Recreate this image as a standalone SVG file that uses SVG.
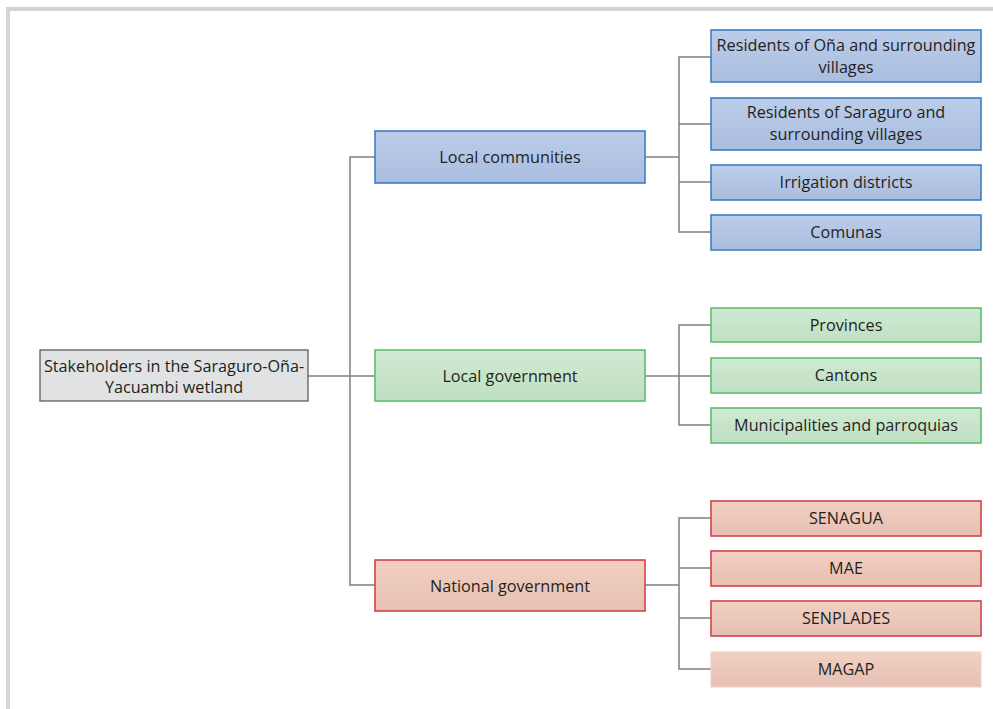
<svg xmlns="http://www.w3.org/2000/svg" width="993" height="709" viewBox="0 0 993 709">
<defs>
<linearGradient id="gb" x1="0" y1="0" x2="0" y2="1"><stop offset="0" stop-color="#bccde9"/><stop offset="1" stop-color="#a9bddf"/></linearGradient>
<linearGradient id="gg" x1="0" y1="0" x2="0" y2="1"><stop offset="0" stop-color="#d0ead3"/><stop offset="1" stop-color="#bfdfc3"/></linearGradient>
<linearGradient id="gr" x1="0" y1="0" x2="0" y2="1"><stop offset="0" stop-color="#f2d0c2"/><stop offset="1" stop-color="#e6c0b2"/></linearGradient>
<style>
text{font-family:"Open Sans","Liberation Sans",sans-serif;font-size:16.2px;fill:#231f20;text-anchor:middle}
.b{fill:url(#gb);stroke:#3d7fc1;stroke-width:1.6}
.g{fill:url(#gg);stroke:#5fbd6f;stroke-width:1.6}
.r{fill:url(#gr);stroke:#d1434c;stroke-width:1.6}
.rl{fill:url(#gr);stroke:#ecd2c8;stroke-width:1}
.root{fill:#e1e2e3;stroke:#5c5c5c;stroke-width:1.3}
.c{fill:none;stroke:#7f7f7f;stroke-width:1.5}
</style>
</defs>
<rect x="0" y="0" width="993" height="709" fill="#ffffff"/>
<path d="M8 712 V9 H996" fill="none" stroke="#d2d3d5" stroke-width="4"/>
<g id="connectors" class="c">
<path d="M308 376 H375"/>
<path d="M375 157 H350 V585 H375"/>
<path d="M645 157 H679"/>
<path d="M711 57 H679 V232 H711"/>
<path d="M679 124 H711"/>
<path d="M679 182 H711"/>
<path d="M645 376 H711"/>
<path d="M711 325 H679 V425 H711"/>
<path d="M645 585 H679"/>
<path d="M711 518 H679 V669 H711"/>
<path d="M679 568 H711"/>
<path d="M679 618 H711"/>
</g>
<g id="root"><rect class="root" x="40" y="350" width="268" height="51"/><text x="174" y="372">Stakeholders in the Saraguro-Oña-</text><text x="174" y="393">Yacuambi wetland</text></g>
<g id="local-communities"><rect class="b" x="375" y="131" width="270" height="52"/><text x="510" y="163">Local communities</text></g>
<g id="local-government"><rect class="g" x="375" y="350" width="270" height="51"/><text x="510" y="382">Local government</text></g>
<g id="national-government"><rect class="r" x="375" y="560" width="270" height="51"/><text x="510" y="592">National government</text></g>
<g id="residents-ona"><rect class="b" x="711" y="30" width="270" height="52"/><text x="846" y="51">Residents of Oña and surrounding</text><text x="846" y="73">villages</text></g>
<g id="residents-saraguro"><rect class="b" x="711" y="98" width="270" height="52"/><text x="846" y="118">Residents of Saraguro and</text><text x="846" y="140">surrounding villages</text></g>
<g id="irrigation"><rect class="b" x="711" y="165" width="270" height="35"/><text x="846" y="188">Irrigation districts</text></g>
<g id="comunas"><rect class="b" x="711" y="215" width="270" height="35"/><text x="846" y="238">Comunas</text></g>
<g id="provinces"><rect class="g" x="711" y="308" width="270" height="34"/><text x="846" y="331">Provinces</text></g>
<g id="cantons"><rect class="g" x="711" y="358" width="270" height="35"/><text x="846" y="381">Cantons</text></g>
<g id="municipalities"><rect class="g" x="711" y="408" width="270" height="35"/><text x="846" y="431">Municipalities and parroquias</text></g>
<g id="senagua"><rect class="r" x="711" y="501" width="270" height="35"/><text x="846" y="524">SENAGUA</text></g>
<g id="mae"><rect class="r" x="711" y="551" width="270" height="35"/><text x="846" y="574">MAE</text></g>
<g id="senplades"><rect class="r" x="711" y="601" width="270" height="35"/><text x="846" y="624">SENPLADES</text></g>
<g id="magap"><rect class="rl" x="711" y="652" width="270" height="35"/><text x="846" y="675">MAGAP</text></g>
</svg>
